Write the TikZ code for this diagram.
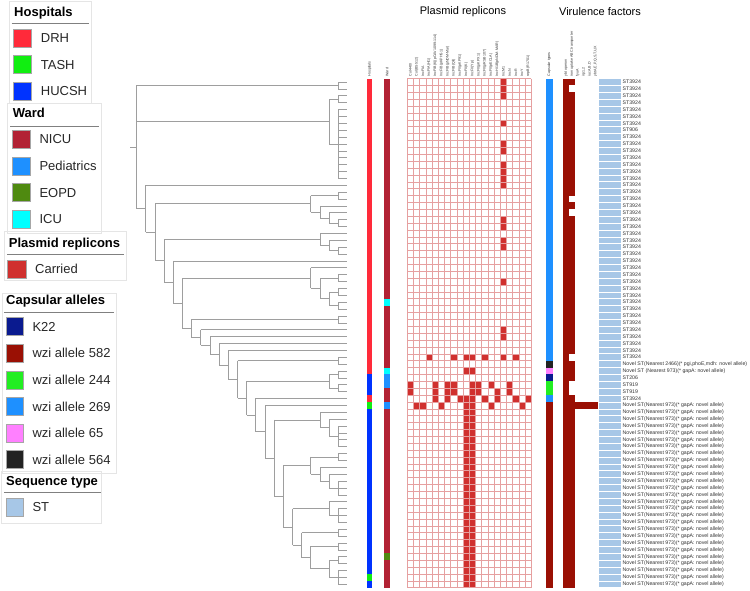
\documentclass[tikz,border=0pt]{standalone}
\usepackage{fontspec}
\setmainfont{Liberation Sans}
\usetikzlibrary{positioning}
\definecolor{drh}{HTML}{FF2A3A}
\definecolor{tash}{HTML}{11EE11}
\definecolor{hucsh}{HTML}{0033FF}
\definecolor{nicu}{HTML}{B22234}
\definecolor{peds}{HTML}{1E90FF}
\definecolor{eopd}{HTML}{4F8A10}
\definecolor{icu}{HTML}{00FFFF}
\definecolor{carried}{HTML}{D0302E}
\definecolor{kxxii}{HTML}{0A1A8F}
\definecolor{wzia}{HTML}{9A1004}
\definecolor{wzib}{HTML}{22EE22}
\definecolor{wzic}{HTML}{1E90FF}
\definecolor{wzid}{HTML}{FF80FF}
\definecolor{wzie}{HTML}{222222}
\definecolor{stblue}{HTML}{A7C7E7}
\definecolor{gridpink}{HTML}{E6A0A0}
\tikzset{branch/.style={draw=black!38, line width=0.6pt}}

\begin{document}
\begin{tikzpicture}[x=1pt, y=-1pt,
    legbox/.style={draw=black!10, line width=0.8pt},
    legtitle/.style={anchor=base west, inner sep=0pt, font=\fontsize{13}{15}\selectfont\bfseries},
    legtext/.style={anchor=base west, inner sep=0pt, font=\fontsize{13}{15}\selectfont, text=black!85},
    swatch/.style={draw=black!35, line width=0.6pt},
    colhead/.style={rotate=90, anchor=west, inner sep=0pt, font=\fontsize{3.6}{4}\selectfont, text=black!80},
    stlab/.style={anchor=west, inner sep=0pt, font=\fontsize{5.2}{6}\selectfont, text=black!80},
    header/.style={inner sep=0pt, font=\fontsize{11}{13}\selectfont}]
\useasboundingbox (0,0) rectangle (750,590);

% legend
\draw[legbox] (9.3,1.7) rectangle (91.7,103);
\node[legtitle] (hosp) at (14,16) {Hospitals};
\draw[black!50] (11.7,23.3) -- (89.3,23.3);
\foreach \c/\t/\n [count=\i] in {drh/DRH/drh, tash/TASH/tash, hucsh/HUCSH/hucsh}{
  \draw[swatch, fill=\c] (13.3,{29.3+(\i-1)*26.4}) rectangle ++(18.4,18);
  \node[legtext] (lg-\n) at (40.7,{42.9+(\i-1)*26.4}) {\t};
}
\draw[legbox] (7.3,103) rectangle (101.7,233);
\node[legtitle] (ward) at (12.7,117.5) {Ward};
\draw[black!50] (10,125.7) -- (99,125.7);
\foreach \c/\t [count=\i] in {nicu/NICU, peds/Pediatrics, eopd/EOPD, icu/ICU}{
  \draw[swatch, fill=\c] (12.7,{130.3+(\i-1)*26.6}) rectangle ++(18,18);
  \node[legtext] (lg-\c) at (39.3,{143.9+(\i-1)*26.6}) {\t};
}
\draw[legbox] (4,231.7) rectangle (126.7,280);
\node[legtitle] (plas) at (8.7,247.5) {Plasmid replicons};
\draw[black!50] (7,254) -- (124,254);
\draw[swatch, fill=carried] (7.7,260) rectangle ++(18.3,18);
\node[legtext] (lg-carried) at (35,273.6) {Carried};
\draw[legbox] (2.7,293) rectangle (116,473);
\node[legtitle] (caps) at (6,304.5) {Capsular alleles};
\draw[black!50] (4,311.7) -- (114,311.7);
\foreach \c/\t [count=\i] in {kxxii/K22, wzia/wzi allele 582, wzib/wzi allele 244, wzic/wzi allele 269, wzid/wzi allele 65, wzie/wzi allele 564}{
  \draw[swatch, fill=\c] (6,{317.7+(\i-1)*26.6}) rectangle ++(17.3,18);
  \node[legtext] (lg-\c) at (32.3,{331.3+(\i-1)*26.6}) {\t};
}
\draw[legbox] (1.7,471.7) rectangle (101.7,523);
\node[legtitle] (seqt) at (6,485.5) {Sequence type};
\draw[black!50] (4,491.7) -- (101,491.7);
\draw[swatch, fill=stblue] (6,498) rectangle ++(17.3,18);
\node[legtext] (lg-st) at (32.3,511.6) {ST};

% tree
\foreach \xa/\xb/\yy in {130/136/147.07, 136/338.3/85.44, 136/329/121.56, 136/145.7/208.7,
    329/338.3/99.2, 329/338.3/143.92, 145.7/347.3/185.2, 145.7/155/232.21,
    155/310.7/203.69, 155/164/260.73, 310.7/338.3/195.52, 310.7/320/211.86,
    320/347.3/205.84, 320/329/217.88, 329/347.3/212.72, 329/338.3/223.04,
    164/320/239.38, 164/173.3/282.07, 320/347.3/233.36, 320/329/245.4,
    329/347.3/240.24, 329/338.3/250.56, 173.3/347.3/260.88, 173.3/182.3/303.26,
    182.3/310.7/278.08, 182.3/191.7/328.44, 310.7/347.3/267.76, 310.7/320/288.4,
    320/338.3/278.08, 320/329/298.72, 329/338.3/291.84, 329/338.3/305.6,
    191.7/338.3/319.36, 191.7/200.7/337.52, 200.7/347.3/329.68, 200.7/210/345.36,
    210/347.3/336.56, 210/219/354.16, 219/347.3/343.44, 219/228.3/364.87,
    228.3/347.3/350.32, 228.3/237.7/379.42, 237.7/338.3/360.64, 237.7/246.7/398.19,
    246.7/329/381.28, 246.7/255.7/415.1, 329/338.3/374.4, 329/338.3/388.16,
    255.7/347.3/398.48, 255.7/265/431.73, 265/347.3/405.36, 265/274/458.09,
    274/320/419.98, 274/283.3/496.2, 320/347.3/412.24, 320/329/427.72,
    329/347.3/419.12, 329/338.3/436.32, 283.3/310.7/465.56, 283.3/292.7/526.84,
    310.7/338.3/456.96, 310.7/320/474.16, 320/347.3/467.28, 320/329/481.04,
    329/347.3/474.16, 329/338.3/487.92, 292.7/329/508.56, 292.7/301.7/545.11,
    329/347.3/501.68, 329/338.3/515.44, 301.7/338.3/532.64, 301.7/310.7/557.58,
    310.7/338.3/546.4, 310.7/329/568.76, 329/338.3/560.16, 329/338.3/577.36}
  \draw[branch] (\xa,\yy) -- (\xb,\yy);
\foreach \xx/\ya/\yb in {136/85.44/208.7, 338.3/82/88.88, 329/99.2/143.92, 338.3/95.76/102.64,
    338.3/109.52/178.32, 145.7/185.2/232.21, 155/203.69/260.73, 310.7/195.52/211.86,
    338.3/192.08/198.96, 320/205.84/217.88, 329/212.72/223.04, 338.3/219.6/226.48,
    164/239.38/282.07, 320/233.36/245.4, 329/240.24/250.56, 338.3/247.12/254,
    173.3/260.88/303.26, 182.3/278.08/328.44, 310.7/267.76/288.4, 320/278.08/298.72,
    338.3/274.64/281.52, 329/291.84/305.6, 338.3/288.4/295.28, 338.3/302.16/309.04,
    191.7/319.36/337.52, 338.3/315.92/322.8, 200.7/329.68/345.36, 210/336.56/354.16,
    219/343.44/364.87, 228.3/350.32/379.42, 237.7/360.64/398.19, 338.3/357.2/364.08,
    246.7/381.28/415.1, 329/374.4/388.16, 338.3/370.96/377.84, 338.3/384.72/391.6,
    255.7/398.48/431.73, 265/405.36/458.09, 274/419.98/496.2, 320/412.24/427.72,
    329/419.12/436.32, 338.3/426/446.64, 283.3/465.56/526.84, 310.7/456.96/474.16,
    338.3/453.52/460.4, 320/467.28/481.04, 329/474.16/487.92, 338.3/481.04/494.8,
    292.7/508.56/545.11, 329/501.68/515.44, 338.3/508.56/522.32, 301.7/532.64/557.58,
    338.3/529.2/536.08, 310.7/546.4/568.76, 338.3/542.96/549.84, 329/560.16/577.36,
    338.3/556.72/563.6, 338.3/570.48/584.24}
  \draw[branch] (\xx,\ya) -- (\xx,\yb);
\foreach \r in {1,...,15,17,18,21,22,25,26,29,30,31,32,33,34,35,36,41,42,43,44,45,46,
    51,52,53,54,55,56,59,60,61,63,64,65,66,67,68,69,70,71,72,73,74}
  \draw[branch] (338.3,{82+(\r-1)*6.88}) -- (347.3,{82+(\r-1)*6.88});

% metadata strips
\node[colhead] (h-hosp) at (369.8,76.5) {Hospitals};
\foreach \a/\b/\c in {1/43/drh, 44/46/hucsh, 47/47/drh, 48/48/tash, 49/72/hucsh, 73/73/tash, 74/74/hucsh}
  \fill[\c] (367.3,{78.56+(\a-1)*6.88}) rectangle (372.3,{78.56+\b*6.88});
\node[colhead] (h-ward) at (387.2,76.5) {Ward};
\foreach \a/\b/\c in {1/32/nicu, 33/33/icu, 34/42/nicu, 43/43/icu, 44/45/peds, 46/47/nicu, 48/48/peds, 49/69/nicu, 70/70/eopd, 71/74/nicu}
  \fill[\c] (384.3,{78.56+(\a-1)*6.88}) rectangle (390,{78.56+\b*6.88});

% plasmid replicons
\node[header] (plasmids) at (463,12) {Plasmid replicons};
\foreach \t [count=\c] in {Col440I, Col(BS512), IncFIA, IncFIA(HI1), IncFIB(K)(pCAV1099-114),
    IncFIB(pKPHS1), IncFIB(pNDM-Mar), IncFIB(Qil), IncFII(pKP91), IncFII(K), IncFII(Yp),
    IncFII(pKPX1), IncFII(pRSB107), IncFII(pECLA), IncHI1B(pNDM-MAR), IncM1, IncN, IncR,
    IncY, repB(R1701)}
  \node[colhead] (p-\c) at ({407.3+(\c-0.5)*6.2},76.5) {\t};
\foreach \r in {1,2,3,7,10,11,13,14,15,16,21,22,24,25,30,37,38,41}
  \fill[carried] ({407.3+15*6.2},{78.56+(\r-1)*6.88}) rectangle ++(6.2,6.88);
\foreach \r/\c in {41/4, 41/8, 41/10, 41/11, 41/13, 41/18, 43/10, 43/11,
    45/1, 45/5, 45/7, 45/8, 45/11, 45/12, 45/14, 45/17,
    46/1, 46/5, 46/7, 46/8, 46/11, 46/12, 46/15, 46/17,
    47/5, 47/7, 47/9, 47/10, 47/11, 47/13, 47/15, 47/18, 47/20,
    48/2, 48/3, 48/6, 48/10, 48/11, 48/14, 48/19}
  \fill[carried] ({407.3+(\c-1)*6.2},{78.56+(\r-1)*6.88}) rectangle ++(6.2,6.88);
\foreach \r in {49,...,74}
  \fill[carried] ({407.3+9*6.2},{78.56+(\r-1)*6.88}) rectangle ++(12.4,6.88);
\foreach \c in {0,...,20}
  \draw[gridpink, line width=0.5pt] ({407.3+\c*6.2},78.56) -- ({407.3+\c*6.2},{78.56+74*6.88});
\foreach \r in {0,...,74}
  \draw[gridpink, line width=0.5pt] (407.3,{78.56+\r*6.88}) -- ({407.3+20*6.2},{78.56+\r*6.88});

% virulence factors
\node[header] (virulence) at (600,12) {Virulence factors};
\node[colhead] (v-caps) at (549.2,76.5) {Capsular types};
\foreach \t [count=\c] in {ybt operon, iron uptake ABC transporter, fyuA, {irp1,2}, {iucA,B,D}, {ybtA,E,P,Q,S,T,U,X}}
  \node[colhead] (v-\c) at ({563+(\c-0.5)*5.9},76.5) {\t};
\foreach \a/\b/\c in {1/41/wzic, 42/42/wzie, 43/43/wzid, 44/44/kxxii, 45/46/wzib, 47/47/wzic, 48/74/wzia}
  \fill[\c] (545.7,{78.56+(\a-1)*6.88}) rectangle (552.7,{78.56+\b*6.88});
\fill[wzia] (563,78.56) rectangle (568.9,{78.56+74*6.88});
\foreach \a/\b in {1/1, 3/17, 19/19, 21/40, 42/44, 47/74}
  \fill[wzia] (568.9,{78.56+(\a-1)*6.88}) rectangle (574.8,{78.56+\b*6.88});
\fill[wzia] (574.8,{78.56+47*6.88}) rectangle (598.5,{78.56+48*6.88});

% sequence types
\foreach \r in {1,...,74}{
  \def\t{Novel ST(Nearest 973)(* gapA: novel allele)}
  \ifnum\r<48 \def\t{ST3924}\fi
  \ifnum\r=8 \def\t{ST906}\fi
  \ifnum\r=42 \def\t{Novel ST(Nearest 2466)(* pgi,phoE,mdh: novel allele)}\fi
  \ifnum\r=43 \def\t{Novel ST (Nearest 973)(* gapA: novel allele)}\fi
  \ifnum\r=44 \def\t{ST206}\fi
  \ifnum\r=45 \def\t{ST919}\fi
  \ifnum\r=46 \def\t{ST919}\fi
  \fill[stblue, draw=white, line width=0.6pt] (598.5,{78.56+(\r-1)*6.88}) rectangle (621.5,{78.56+\r*6.88});
  \node[stlab] (st\r) at (622.5,{82+(\r-1)*6.88}) {\t};
}
\end{tikzpicture}
\end{document}
